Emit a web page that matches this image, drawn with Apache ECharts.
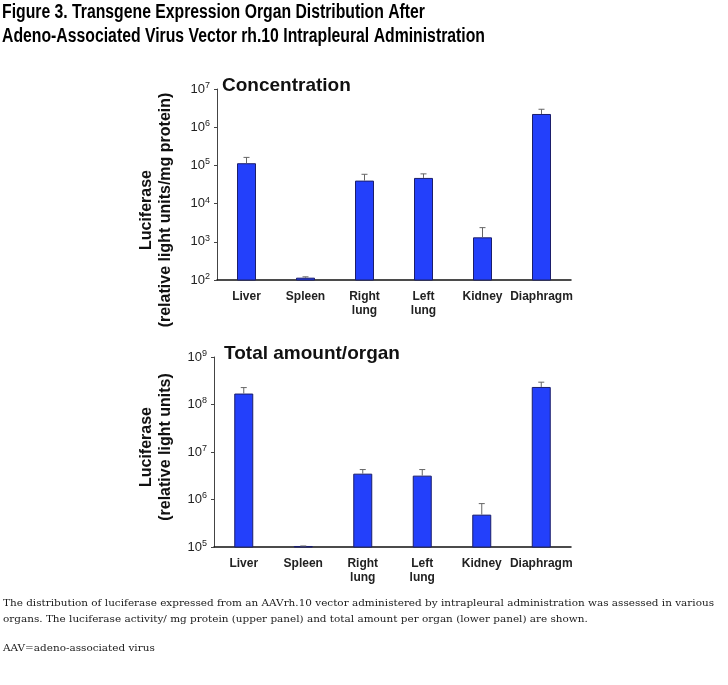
<!DOCTYPE html>
<html><head><meta charset="utf-8">
<script src="https://cdn.jsdelivr.net/npm/echarts@6/dist/echarts.min.js"></script>
<style>html,body{margin:0;padding:0;background:#fff}#c{width:728px;height:685px}</style>
</head><body><div id="c"></div>
<script>
// ---- data ----
const categories = ['Liver', 'Spleen', 'Right\nlung', 'Left\nlung', 'Kidney', 'Diaphragm'];
const concValues = [114000, 115, 40000, 47000, 1310, 2220000];
const concErrorTop = [162000, 121, 58500, 60000, 2350, 2950000];
const totalValues = [170000000, 105000, 3500000, 3180000, 480000, 234000000];
const totalErrorTop = [227000000, 105000, 4270000, 4270000, 820000, 295000000];
const concAxisRange = [1e2, 1e7];
const totalAxisRange = [1e5, 1e9];

const figTitle = ['Figure 3. Transgene Expression Organ Distribution After',
                  'Adeno-Associated Virus Vector rh.10 Intrapleural Administration'];
const panelTitles = ['Concentration', 'Total amount/organ'];
const yTitles = [['Luciferase', '(relative light units/mg protein)'],
                 ['Luciferase', '(relative light units)']];
const caption = ['The distribution of luciferase expressed from an AAVrh.10 vector administered by intrapleural administration was assessed in various',
                 'organs. The luciferase activity/ mg protein (upper panel) and total amount per organ (lower panel) are shown.',
                 'AAV=adeno-associated virus'];

// ---- helpers ----
const mctx = document.createElement('canvas').getContext('2d');
function measure(text, font) { mctx.font = font; return mctx.measureText(text).width; }

const titleFontFamily = '"Liberation Sans", Arial, sans-serif';
const capFontFamily = '"DejaVu Serif", "Liberation Serif", serif';
const titleScale1 = 423 / measure(figTitle[0], 'bold 20px ' + titleFontFamily);
const titleScale2 = 483 / measure(figTitle[1], 'bold 20px ' + titleFontFamily);
const capScale = 711 / measure(caption[0], '10px ' + capFontFamily);

function expLabel(v) {
  const e = Math.round(Math.log10(v));
  return '{b|10}{s|' + e + '}';
}
const axisRich = {
  b: { fontSize: 13, color: '#222', fontFamily: 'Liberation Sans, Arial' },
  s: { fontSize: 9, color: '#222', fontFamily: 'Liberation Sans, Arial', padding: [0, 0, 7, 0] }
};

function yAxis(gi, range) {
  return {
    type: 'log', logBase: 10, gridIndex: gi, min: range[0], max: range[1], interval: 1,
    axisLine: { show: true, lineStyle: { color: '#444', width: 1 } },
    axisTick: { show: true, length: 3, inside: false, lineStyle: { color: '#444' } },
    splitLine: { show: false },
    minorTick: { show: false },
    axisLabel: { formatter: expLabel, rich: axisRich, margin: 7 }
  };
}
function xAxis(gi) {
  return {
    type: 'category', gridIndex: gi, data: categories,
    axisLine: { lineStyle: { color: '#111', width: 1.5 } },
    axisTick: { show: false },
    axisLabel: { interval: 0, fontSize: 12, fontWeight: 'bold', color: '#222', lineHeight: 14, margin: 10,
                 fontFamily: 'Liberation Sans, Arial' }
  };
}
function barSeries(gi, vals) {
  return {
    type: 'bar', xAxisIndex: gi, yAxisIndex: gi, data: vals, barWidth: 19, clip: true,
    itemStyle: { color: '#2340fb', borderColor: '#1b1e6b', borderWidth: 1 }
  };
}
function errSeries(gi, vals, tops) {
  return {
    type: 'custom', xAxisIndex: gi, yAxisIndex: gi, z: 3,
    data: vals.map((v, i) => [i, v, tops[i]]),
    renderItem: function (params, api) {
      const p1 = api.coord([api.value(0), api.value(1)]);
      const p2 = api.coord([api.value(0), api.value(2)]);
      return { type: 'group', children: [
        { type: 'line', shape: { x1: p1[0], y1: p1[1], x2: p2[0], y2: p2[1] }, style: { stroke: '#666', lineWidth: 1 } },
        { type: 'line', shape: { x1: p2[0] - 3, y1: p2[1], x2: p2[0] + 3, y2: p2[1] }, style: { stroke: '#666', lineWidth: 1 } }
      ]};
    }
  };
}

function textEl(text, x, y, opts) {
  return Object.assign({
    type: 'text', x: x, y: y, silent: true,
    style: Object.assign({ text: text, fill: '#111' }, opts.style)
  }, opts.el || {});
}

const graphics = [
  textEl(figTitle[0], 2, 12, { el: { scaleX: titleScale1 }, style: { fontSize: 20, fontWeight: 'bold', fontFamily: titleFontFamily, verticalAlign: 'middle', fill: '#000' } }),
  textEl(figTitle[1], 2, 36, { el: { scaleX: titleScale2 }, style: { fontSize: 20, fontWeight: 'bold', fontFamily: titleFontFamily, verticalAlign: 'middle', fill: '#000' } }),
  textEl(caption[0], 3, 603, { el: { scaleX: capScale }, style: { fontSize: 10, fontFamily: capFontFamily, verticalAlign: 'middle', fill: '#1a1a1a' } }),
  textEl(caption[1], 3, 619, { el: { scaleX: capScale }, style: { fontSize: 10, fontFamily: capFontFamily, verticalAlign: 'middle', fill: '#1a1a1a' } }),
  textEl(caption[2], 3, 648, { el: { scaleX: capScale }, style: { fontSize: 10, fontFamily: capFontFamily, verticalAlign: 'middle', fill: '#1a1a1a' } })
];
const yTitlePos = [[147, 166, 210], [147, 166, 447]];
yTitles.forEach((lines, k) => {
  lines.forEach((t, j) => {
    graphics.push(textEl(t, yTitlePos[k][j], yTitlePos[k][2], {
      el: { rotation: Math.PI / 2 },
      style: { fontSize: 16, fontWeight: 'bold', fontFamily: 'Liberation Sans, Arial', align: 'center', verticalAlign: 'middle', fill: '#111' }
    }));
  });
});

const chart = echarts.init(document.getElementById('c'), null, { renderer: 'canvas' });
chart.setOption({
  backgroundColor: '#fff',
  animation: false,
  title: [
    { text: panelTitles[0], left: 222, top: 76, padding: 0, textStyle: { fontSize: 19, fontWeight: 'bold', color: '#111', fontFamily: 'Liberation Sans, Arial' } },
    { text: panelTitles[1], left: 224, top: 344, padding: 0, textStyle: { fontSize: 19, fontWeight: 'bold', color: '#111', fontFamily: 'Liberation Sans, Arial' } }
  ],
  grid: [
    { left: 217, right: 157, top: 89, height: 191 },
    { left: 214, right: 157, top: 357, height: 190 }
  ],
  xAxis: [xAxis(0), xAxis(1)],
  yAxis: [yAxis(0, concAxisRange), yAxis(1, totalAxisRange)],
  series: [
    barSeries(0, concValues), errSeries(0, concValues, concErrorTop),
    barSeries(1, totalValues), errSeries(1, totalValues, totalErrorTop)
  ],
  graphic: graphics
});
</script></body></html>
